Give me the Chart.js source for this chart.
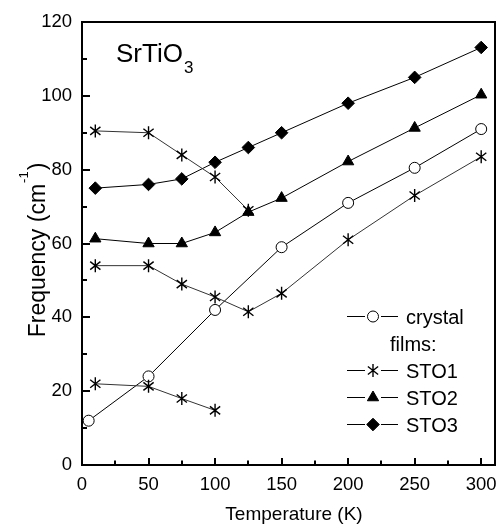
<!DOCTYPE html>
<html><head><meta charset="utf-8">
<script src="https://cdn.jsdelivr.net/npm/chart.js@4/dist/chart.umd.min.js"></script>
<style>html,body{margin:0;padding:0;background:#fff;overflow:hidden}#wrap{width:502px;height:529px;position:relative}</style>
</head><body><div id="wrap"><canvas id="c" width="502" height="529"></canvas></div>
<script>
// ---- data ----
const temps = [10, 50, 75, 100, 125, 150, 200, 250, 300];
const crystalTemps = [5, 50, 100, 150, 200, 250, 300];
const crystal = [12, 24, 42, 59, 71, 80.5, 91];
const sto1UpperTemps = [10, 50, 75, 100, 125];
const sto1Upper = [90.5, 90, 84, 78, 69];
const sto1Middle = [54, 54, 49, 45.5, 41.5, 46.5, 61, 73, 83.5];
const sto1LowerTemps = [10, 50, 75, 100];
const sto1Lower = [22, 21.3, 18, 14.8];
const sto2 = [61.3, 60, 60, 63, 68.5, 72.3, 82.2, 91.3, 100.3];
const sto3 = [75, 76, 77.5, 82, 86, 90, 98, 105, 113.1];
const xTicks = [0, 50, 100, 150, 200, 250, 300];
const yTicks = [0, 20, 40, 60, 80, 100, 120];
const xMinor = [25, 75, 125, 175, 225, 275];
const yMinor = [10, 30, 50, 70, 90, 110];
const legendLabels = ['crystal', 'films:', 'STO1', 'STO2', 'STO3'];
const xTitle = 'Temperature (K)';
const yTitle = ['Frequency (cm', '-1', ')'];
const compound = ['SrTiO', '3'];

const FONT = "'Liberation Sans', Arial, sans-serif";

function drawAsterisk(ctx, x, y){
  const rr = 6.5;
  ctx.save();
  ctx.strokeStyle = '#000'; ctx.lineWidth = 1.4;
  ctx.beginPath();
  [90, 38, 142].forEach(ang => {
    const t = ang*Math.PI/180;
    ctx.moveTo(x + rr*Math.cos(t), y - rr*Math.sin(t));
    ctx.lineTo(x - rr*Math.cos(t), y + rr*Math.sin(t));
  });
  ctx.stroke();
  ctx.restore();
}

function pts(xv, yv){ return xv.map((x, i) => ({x: x, y: yv[i]})); }
function ds(label, data, style, radius, bg, lineColor){
  return {label, data, pointStyle: style, pointRadius: radius, pointHoverRadius: radius,
    pointBackgroundColor: bg, pointBorderColor: '#000', pointBorderWidth: 1,
    borderColor: lineColor, borderWidth: 1, showLine: true, fill: false, tension: 0};
}

const datasets = [
  ds('STO1a', pts(sto1UpperTemps, sto1Upper), 'circle', 0, '#000', '#333'),
  ds('STO1b', pts(temps, sto1Middle), 'circle', 0, '#000', '#333'),
  ds('STO1c', pts(sto1LowerTemps, sto1Lower), 'circle', 0, '#000', '#333'),
  ds('STO2', pts(temps, sto2), 'triangle', 6.5, '#000', '#000'),
  ds('STO3', pts(temps, sto3), 'rectRot', 6.3, '#000', '#000'),
  ds('crystal', pts(crystalTemps, crystal), 'circle', 5.5, '#fff', '#000'),
];

function drawSym(ctx, kind, x, y){
  ctx.save();
  ctx.fillStyle = '#000'; ctx.strokeStyle = '#000'; ctx.lineWidth = 1;
  if (kind === 'circle') {
    ctx.beginPath(); ctx.arc(x, y, 5.5, 0, Math.PI*2); ctx.fillStyle = '#fff'; ctx.fill(); ctx.stroke();
  } else if (kind === 'star') {
    drawAsterisk(ctx, x, y);
  } else if (kind === 'triangle') {
    const k = 6.5;
    ctx.beginPath();
    ctx.moveTo(x, y - k); ctx.lineTo(x + k*0.866, y + k/2); ctx.lineTo(x - k*0.866, y + k/2); ctx.closePath();
    ctx.fill(); ctx.stroke();
  } else if (kind === 'diamond') {
    const k = 6.3;
    ctx.beginPath();
    ctx.moveTo(x - k, y); ctx.lineTo(x, y - k); ctx.lineTo(x + k, y); ctx.lineTo(x, y + k); ctx.closePath();
    ctx.fill(); ctx.stroke();
  }
  ctx.restore();
}

// asterisk markers placed at the library's computed point positions
const asteriskMarks = {
  id: 'asteriskMarks',
  afterDatasetsDraw(chart){
    const ctx = chart.ctx;
    [0, 1, 2].forEach(i => {
      chart.getDatasetMeta(i).data.forEach(el => drawAsterisk(ctx, el.x, el.y));
    });
  }
};

const frameTicks = {
  id: 'frameTicks',
  afterDraw(chart){
    const ctx = chart.ctx;
    const sx = chart.scales.x, sy = chart.scales.y;
    const x0 = Math.round(sx.left), x1 = Math.round(sx.right), y0 = Math.round(sy.top), y1 = Math.round(sy.bottom);
    ctx.save();
    ctx.fillStyle = '#000';
    ctx.fillRect(x0 - 1, y0 - 1, x1 - x0 + 2, 2);
    ctx.fillRect(x0 - 1, y1 - 1, x1 - x0 + 2, 2);
    ctx.fillRect(x0 - 1, y0 - 1, 2, y1 - y0 + 2);
    ctx.fillRect(x1 - 1, y0 - 1, 2, y1 - y0 + 2);
    xTicks.forEach(v => { const px = Math.round(sx.getPixelForValue(v)); ctx.fillRect(px - 1, y1 - 7, 2, 7); });
    xMinor.forEach(v => { const px = Math.round(sx.getPixelForValue(v)); ctx.fillRect(px - 1, y1 - 4.5, 2, 4.5); });
    yTicks.forEach(v => { const py = Math.round(sy.getPixelForValue(v)); ctx.fillRect(x0, py - 1, 8, 2); });
    yMinor.forEach(v => { const py = Math.round(sy.getPixelForValue(v)); ctx.fillRect(x0, py - 1, 5, 2); });
    ctx.restore();
  }
};

const annot = {
  id: 'annot',
  afterDraw(chart){
    const ctx = chart.ctx;
    ctx.save();
    ctx.fillStyle = '#000';
    ctx.textAlign = 'left'; ctx.textBaseline = 'alphabetic';
    ctx.font = '26px ' + FONT;
    ctx.fillText(compound[0], 116, 62);
    const w0 = ctx.measureText(compound[0]).width;
    ctx.font = '17px ' + FONT;
    ctx.fillText(compound[1], 116 + w0 + 1, 73);

    ctx.font = '19px ' + FONT; ctx.textAlign = 'center';
    ctx.fillText(xTitle, 294, 520);

    ctx.save();
    ctx.translate(45, 250); ctx.rotate(-Math.PI/2);
    ctx.textAlign = 'left';
    ctx.font = '23px ' + FONT; const w1 = ctx.measureText(yTitle[0]).width; const w3 = ctx.measureText(yTitle[2]).width;
    ctx.font = '13px ' + FONT; const w2 = ctx.measureText(yTitle[1]).width;
    let tx = -(w1 + w2 + w3 + 2)/2;
    ctx.font = '23px ' + FONT; ctx.fillText(yTitle[0], tx, 0); tx += w1 + 1;
    ctx.font = '13px ' + FONT; ctx.fillText(yTitle[1], tx, -17); tx += w2 + 1;
    ctx.font = '23px ' + FONT; ctx.fillText(yTitle[2], tx, 0);
    ctx.restore();

    const rows = [
      {sym: 'circle', text: legendLabels[0], base: 324},
      {sym: null, text: legendLabels[1], base: 351},
      {sym: 'star', text: legendLabels[2], base: 378},
      {sym: 'triangle', text: legendLabels[3], base: 405},
      {sym: 'diamond', text: legendLabels[4], base: 432},
    ];
    ctx.font = '20px ' + FONT; ctx.textAlign = 'left';
    rows.forEach(row => {
      if (row.sym) {
        const ly = row.base - 7.5;
        ctx.lineWidth = 1; ctx.strokeStyle = '#000';
        ctx.beginPath(); ctx.moveTo(347, ly); ctx.lineTo(365, ly); ctx.moveTo(381, ly); ctx.lineTo(398, ly); ctx.stroke();
        drawSym(ctx, row.sym, 373, ly);
        ctx.fillStyle = '#000';
        ctx.fillText(row.text, 406, row.base);
      } else {
        ctx.fillStyle = '#000';
        ctx.fillText(row.text, 390, row.base);
      }
    });
    ctx.restore();
  }
};

new Chart(document.getElementById('c'), {
  type: 'scatter',
  data: { datasets },
  options: {
    responsive: false, animation: false, devicePixelRatio: 1,
    layout: { padding: { top: 22, right: 3, left: 0, bottom: 0 } },
    plugins: { legend: { display: false }, tooltip: { enabled: false } },
    events: [],
    scales: {
      x: {
        type: 'linear', min: 0, max: 310,
        afterBuildTicks: s => { s.ticks = xTicks.map(v => ({value: v})); },
        afterFit: s => { s.height = 64; s.paddingLeft = 0; s.paddingRight = 0; },
        grid: { display: false, drawTicks: false },
        border: { display: false },
        ticks: { color: '#000', padding: 9, font: { family: FONT, size: 18.5 }, maxRotation: 0, autoSkip: false }
      },
      y: {
        type: 'linear', min: 0, max: 120,
        afterBuildTicks: s => { s.ticks = yTicks.map(v => ({value: v})); },
        afterFit: s => { s.width = 82; s.paddingTop = 0; s.paddingBottom = 0; },
        grid: { display: false, drawTicks: false },
        border: { display: false },
        ticks: { color: '#000', padding: 10, font: { family: FONT, size: 18.5 }, autoSkip: false }
      }
    }
  },
  plugins: [asteriskMarks, frameTicks, annot]
});
</script>
</body></html>
